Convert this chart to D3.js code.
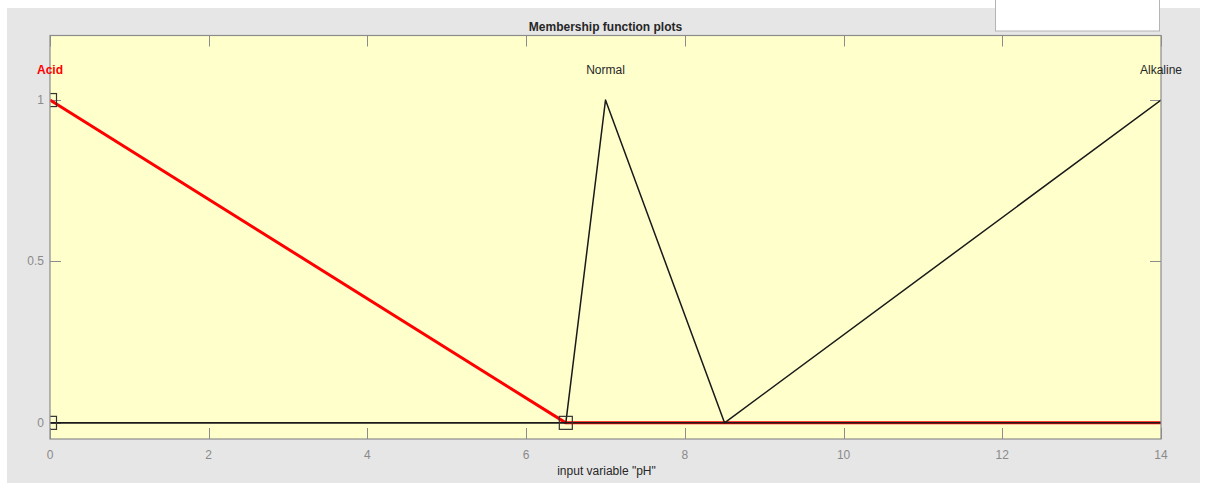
<!DOCTYPE html>
<html>
<head>
<meta charset="utf-8">
<script src="https://cdn.jsdelivr.net/npm/d3@7"></script>
<style>
  html, body { margin: 0; padding: 0; background: #ffffff; }
  svg { display: block; font-family: "Liberation Sans", Arial, Helvetica, sans-serif; }
</style>
</head>
<body>
<svg id="chart" width="1209" height="483"></svg>
<script>
// Membership functions of the input variable "pH"
const mfNames = ["Acid", "Normal", "Alkaline"];
const acidPoints = [[0, 1], [6.5, 0], [14, 0]];
const normalPoints = [[0, 0], [6.5, 0], [7, 1], [8.5, 0], [14, 0]];
const alkalinePoints = [[0, 0], [8.5, 0], [14, 1]];
// label anchor for each function (x position)
const mfLabelX = [0, 7, 14];
// parameter handles of the selected function (trimf [0 0 6.5])
const acidHandles = [[0, 1], [0, 0], [6.5, 0]];

const xTicks = [0, 2, 4, 6, 8, 10, 12, 14];
const yTicks = [0, 0.5, 1];
const xDomain = [0, 14];
const yDomain = [-0.05, 1.2];

(function draw() {
  const svg = d3.select("#chart");

  // figure panel
  svg.append("rect").attr("x", 7).attr("y", 8).attr("width", 1193).attr("height", 475)
    .attr("fill", "#e6e6e6");
  // small white panel at the top right
  svg.append("rect").attr("x", 995.5).attr("y", -1).attr("width", 164).attr("height", 32)
    .attr("fill", "#ffffff").attr("stroke", "#b4b4b4").attr("stroke-width", 1);

  const pL = 50, pR = 1161, pT = 35.5, pB = 439;
  const x = d3.scaleLinear().domain(xDomain).range([pL, pR]);
  const y = d3.scaleLinear().domain(yDomain).range([pB, pT]);

  svg.append("defs").append("clipPath").attr("id", "plotClip")
    .append("rect").attr("x", pL).attr("y", pT)
    .attr("width", pR - pL).attr("height", pB - pT);

  // axes background
  svg.append("rect").attr("x", pL).attr("y", pT)
    .attr("width", pR - pL).attr("height", pB - pT)
    .attr("fill", "#ffffcc");

  // title
  svg.append("text").attr("x", (pL + pR) / 2).attr("y", 31)
    .attr("text-anchor", "middle").attr("font-size", 12).attr("font-weight", "bold")
    .attr("fill", "#262626").text("Membership function plots");

  const tickLen = 11;
  const axisColor = "#8c8c8c";
  const tickG = svg.append("g").attr("stroke", axisColor).attr("stroke-width", 1);

  // x ticks, bottom and top, pointing inward
  tickG.selectAll("line.xb").data(xTicks).join("line").attr("class", "xb")
    .attr("x1", d => Math.round(x(d)) + 0.5).attr("x2", d => Math.round(x(d)) + 0.5)
    .attr("y1", pB).attr("y2", pB - tickLen);
  tickG.selectAll("line.xt").data(xTicks).join("line").attr("class", "xt")
    .attr("x1", d => Math.round(x(d)) + 0.5).attr("x2", d => Math.round(x(d)) + 0.5)
    .attr("y1", pT).attr("y2", pT + tickLen);
  // y ticks, left and right
  tickG.selectAll("line.yl").data(yTicks).join("line").attr("class", "yl")
    .attr("x1", pL).attr("x2", pL + tickLen)
    .attr("y1", d => Math.round(y(d)) + 0.5).attr("y2", d => Math.round(y(d)) + 0.5);
  tickG.selectAll("line.yr").data(yTicks).join("line").attr("class", "yr")
    .attr("x1", pR).attr("x2", pR - tickLen)
    .attr("y1", d => Math.round(y(d)) + 0.5).attr("y2", d => Math.round(y(d)) + 0.5);

  // tick labels
  svg.append("g").selectAll("text").data(xTicks).join("text")
    .attr("x", d => x(d)).attr("y", 459)
    .attr("text-anchor", "middle").attr("font-size", 12).attr("fill", "#8a8a8a")
    .text(d => d);
  svg.append("g").selectAll("text").data(yTicks).join("text")
    .attr("x", pL - 6).attr("y", d => y(d) + 4)
    .attr("text-anchor", "end").attr("font-size", 12).attr("fill", "#8a8a8a")
    .text(d => d);

  // x label
  svg.append("text").attr("x", (pL + pR) / 2 + 1).attr("y", 475)
    .attr("text-anchor", "middle").attr("font-size", 12).attr("fill", "#262626")
    .text('input variable "pH"');

  const line = d3.line().x(d => x(d[0])).y(d => y(d[1]));
  const plot = svg.append("g").attr("clip-path", "url(#plotClip)");

  // selected function drawn thick red
  plot.append("path").datum(acidPoints).attr("d", line)
    .attr("fill", "none").attr("stroke", "#ff0000").attr("stroke-width", 3)
    .attr("stroke-linejoin", "round");

  // remaining functions in black
  [normalPoints, alkalinePoints].forEach(pts => {
    plot.append("path").datum(pts).attr("d", line)
      .attr("fill", "none").attr("stroke", "#1a1a1a").attr("stroke-width", 1.5)
      .attr("stroke-linejoin", "round");
  });

  // parameter handles
  plot.selectAll("rect.handle").data(acidHandles).join("rect").attr("class", "handle")
    .attr("x", d => x(d[0]) - 6.5).attr("y", d => y(d[1]) - 6.5)
    .attr("width", 13).attr("height", 13)
    .attr("fill", "none").attr("stroke", "#333333").attr("stroke-width", 1.2);

  // axes box
  svg.append("rect").attr("x", pL).attr("y", pT)
    .attr("width", pR - pL).attr("height", pB - pT)
    .attr("fill", "none").attr("stroke", axisColor).attr("stroke-width", 1.2);

  // function names
  svg.append("g").selectAll("text").data(mfNames).join("text")
    .attr("x", (d, i) => x(mfLabelX[i])).attr("y", y(1.1) + 6)
    .attr("text-anchor", "middle").attr("font-size", 12)
    .attr("font-weight", (d, i) => i === 0 ? "bold" : "normal")
    .attr("fill", (d, i) => i === 0 ? "#ff0000" : "#262626")
    .text(d => d);
})();
</script>
</body>
</html>
